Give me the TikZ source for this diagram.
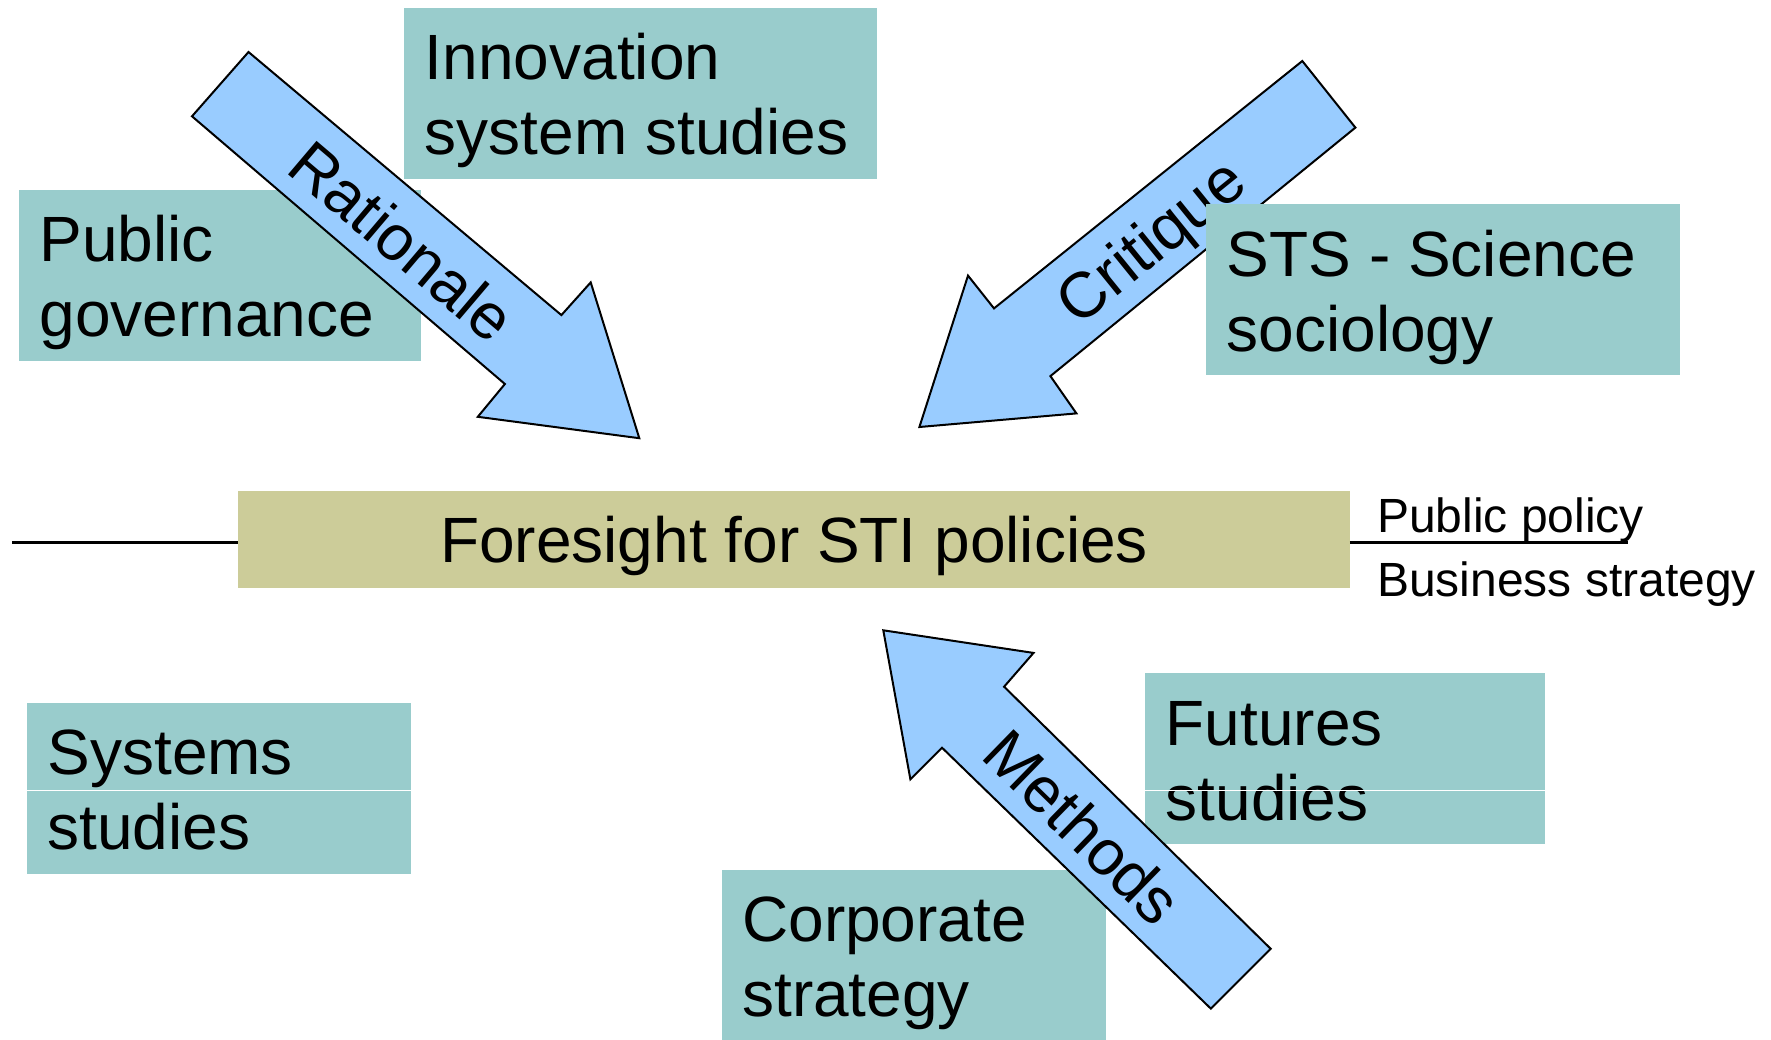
\documentclass[tikz,border=0pt]{standalone}
\usepackage{fontspec}
\setmainfont{Liberation Sans}
\definecolor{fieldteal}{RGB}{153, 204, 204}
\definecolor{coreolive}{RGB}{204, 204, 153}
\definecolor{flowblue}{RGB}{153, 204, 255}
\usetikzlibrary{positioning, calc}
\newcommand{\fieldfont}{\fontsize{64}{75}\selectfont}
\newcommand{\sidefont}{\fontsize{48}{56}\selectfont}

\begin{document}
\begin{tikzpicture}[
  x=1pt, y=-1pt,
  field/.style={fill=fieldteal, anchor=north west, align=left, text width=#1, inner xsep=20.5pt, inner ysep=0pt, outer sep=0pt, text height=72pt, text depth=99pt, font=\fieldfont, execute at begin node={\spaceskip=\fontdimen2\font\relax}},
  core/.style={fill=coreolive, anchor=north west, minimum width=1111.5pt, inner ysep=0pt, outer sep=0pt, text height=71.5pt, text depth=25pt, font=\fieldfont},
  flow/.style={fill=flowblue, draw=black, line width=2pt, line join=miter},
  flowlabel/.style={font=\fieldfont, inner sep=0pt},
  side/.style={font=\sidefont, inner sep=0pt, anchor=base west},
  rule/.style={line width=3pt},
  divider/.style={draw=white, line width=1.5pt},
]
  \useasboundingbox (0,0) rectangle (1771,1039);

  % Upper fields
  \node[field=361pt] (pubgov) at (19.2,189.8) {Public\\governance};
  \node[field=432pt] (innov) at (404.4,7.9) {Innovation\\system studies};

  % Rationale and critique
  \draw[flow] (248.5,52) -- (561.4,315.1) -- (590.7,282.4) -- (639.3,438.2) -- (477.8,416.8) -- (504.9,384) -- (192,116.3) -- cycle;
  \node[flowlabel, rotate=-40.3] (rat) at (402,241) {Rationale};
  \draw[flow] (1302.3,61) -- (1355.4,127.6) -- (1050.4,376.1) -- (1076.4,413.4) -- (919.4,427) -- (968,275.6) -- (994,308.4) -- cycle;
  \node[flowlabel, rotate=39] (crit) at (1154,245) {Critique};
  \node[field=433pt] (sts) at (1206.3,204.4) {STS - Science\\sociology};

  % Centre
  \node[core] (fsti) at (238.3,491.3) {Foresight for STI policies};
  \coordinate (lend) at (12,542);
  \coordinate (rend) at (1628,542);
  \draw[rule] (lend) -- (lend -| fsti.west);
  \draw[rule] (fsti.east |- rend) -- (rend);
  \node[side] (pubpol) at (1377,532) {Public policy};
  \node[side] (busstr) at (1377,596) {Business strategy};

  % Lower fields
  \node[field=343pt] (sysst) at (27.1,702.5) {Systems\\studies};
  \draw[divider] (sysst.west |- 0,790.6) -- (sysst.east |- 0,790.6);
  \node[field=359pt] (futst) at (1145.3,673.2) {Futures\\studies};
  \draw[divider] (futst.west |- 0,790.6) -- (futst.east |- 0,790.6);
  \node[field=343pt] (corpst) at (721.8,869.5) {Corporate\\strategy};

  % Methods
  \draw[flow] (883.3,630.3) -- (1033.5,652.9) -- (1004.1,686.7) -- (1270.7,948.8) -- (1210.8,1008.6) -- (942,747.7) -- (910.4,779.4) -- cycle;
  \node[flowlabel, rotate=-44.3] (meth) at (1083,827) {Methods};
\end{tikzpicture}
\end{document}
